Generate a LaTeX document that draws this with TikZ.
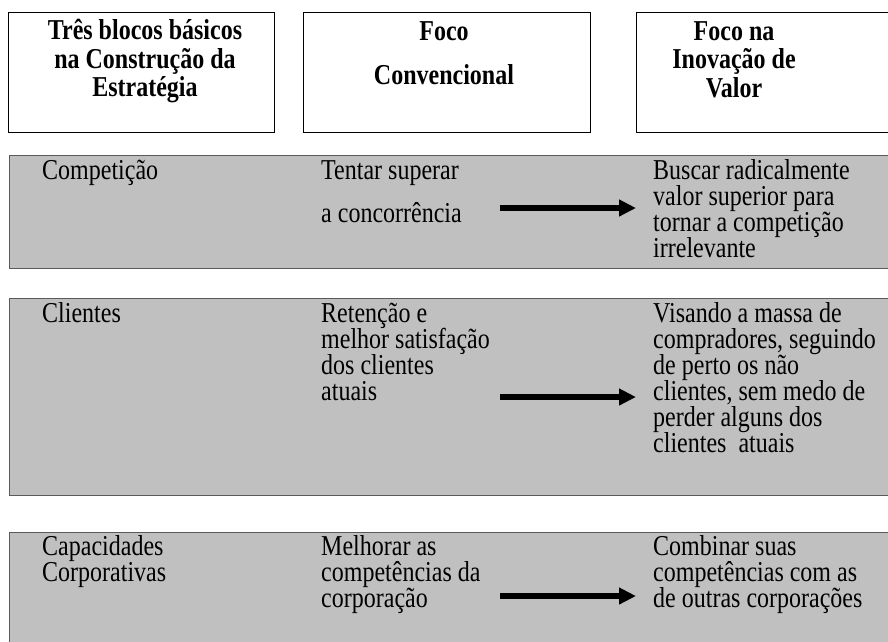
\documentclass[tikz,border=0pt]{standalone}
\usepackage{fontspec}
\usepackage{graphicx}
\setmainfont{Liberation Serif}
\usetikzlibrary{arrows.meta}
\definecolor{bandgray}{HTML}{C0C0C0}
\definecolor{bandline}{HTML}{5A5A5A}
\newcommand{\tallt}[1]{\scalebox{1}[1.2]{#1}}
\begin{document}
\begin{tikzpicture}[x=1pt,y=-1pt,
  hbox/.style={draw=black,line width=1.3pt,fill=white,inner sep=0pt,anchor=north west},
  band/.style={draw=bandline,line width=1.2pt,fill=bandgray,inner sep=0pt,anchor=north west},
  hdr/.style={font=\fontsize{24}{26}\selectfont\bfseries,inner sep=0pt,anchor=base},
  txt/.style={font=\fontsize{24}{26}\selectfont,inner sep=0pt,anchor=base west},
  arr/.style={line width=6pt,-{Triangle[length=17pt,width=16pt]}}]
\useasboundingbox (0,0) rectangle (888,641);
\clip (0,0) rectangle (888,641);
% header boxes
\node[hbox,minimum width=266pt,minimum height=120pt] (h1) at (8,12) {};
\node[hbox,minimum width=287pt,minimum height=120pt] (h2) at (303,12) {};
\node[hbox,minimum width=300pt,minimum height=120pt] (h3) at (636,12) {};
\node[hdr] (h1a) at (145,39) {\tallt{Três blocos básicos}};
\node[hdr] (h1b) at (145,68) {\tallt{na Construção da}};
\node[hdr] (h1c) at (145,96) {\tallt{Estratégia}};
\node[hdr] (h2a) at (444,40) {\tallt{Foco}};
\node[hdr] (h2b) at (444,84) {\tallt{Convencional}};
\node[hdr] (h3a) at (734,40) {\tallt{Foco na}};
\node[hdr] (h3b) at (734,68) {\tallt{Inovação de}};
\node[hdr] (h3c) at (734,97) {\tallt{Valor}};
% bands
\node[band,minimum width=900pt,minimum height=113pt] (b1) at (9,155) {};
\node[band,minimum width=900pt,minimum height=197pt] (b2) at (9,298) {};
\node[band,minimum width=900pt,minimum height=140pt] (b3) at (9,532) {};
% band 1
\node[txt] (t11) at (42,179) {\tallt{Competição}};
\node[txt] (t12a) at (321,179) {\tallt{Tentar superar}};
\node[txt] (t12b) at (321,222) {\tallt{a concorrência}};
\node[txt] (t13a) at (653,179) {\tallt{Buscar radicalmente}};
\node[txt] (t13b) at (653,205) {\tallt{valor superior para}};
\node[txt] (t13c) at (653,231) {\tallt{tornar a competição}};
\node[txt] (t13d) at (653,257) {\tallt{irrelevante}};
\coordinate (a1s) at (500,208);
\coordinate (a1e) at (636,208);
\draw[arr] (a1s) -- (a1e);
% band 2
\node[txt] (t21) at (42,322) {\tallt{Clientes}};
\node[txt] (t22a) at (321,322) {\tallt{Retenção e}};
\node[txt] (t22b) at (321,348) {\tallt{melhor satisfação}};
\node[txt] (t22c) at (321,374) {\tallt{dos clientes}};
\node[txt] (t22d) at (321,400) {\tallt{atuais}};
\node[txt] (t23a) at (653,322) {\tallt{Visando a massa de}};
\node[txt] (t23b) at (653,348) {\tallt{compradores, seguindo}};
\node[txt] (t23c) at (653,374) {\tallt{de perto os não}};
\node[txt] (t23d) at (653,400) {\tallt{clientes, sem medo de}};
\node[txt] (t23e) at (653,426) {\tallt{perder alguns dos}};
\node[txt] (t23f) at (653,452) {\tallt{clientes\ \ atuais}};
\coordinate (a2s) at (500,397);
\coordinate (a2e) at (636,397);
\draw[arr] (a2s) -- (a2e);
% band 3
\node[txt] (t31a) at (42,555) {\tallt{Capacidades}};
\node[txt] (t31b) at (42,581) {\tallt{Corporativas}};
\node[txt] (t32a) at (321,555) {\tallt{Melhorar as}};
\node[txt] (t32b) at (321,581) {\tallt{competências da}};
\node[txt] (t32c) at (321,607) {\tallt{corporação}};
\node[txt] (t33a) at (653,555) {\tallt{Combinar suas}};
\node[txt] (t33b) at (653,581) {\tallt{competências com as}};
\node[txt] (t33c) at (653,607) {\tallt{de outras corporações}};
\coordinate (a3s) at (500,596);
\coordinate (a3e) at (636,596);
\draw[arr] (a3s) -- (a3e);
\end{tikzpicture}
\end{document}
